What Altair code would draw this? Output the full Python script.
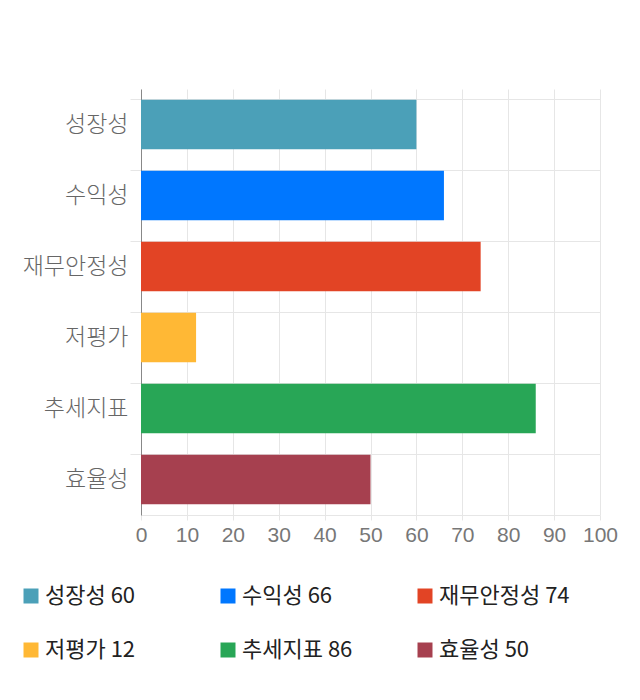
import altair as alt
import pandas as pd

names = ["성장성", "수익성", "재무안정성", "저평가", "추세지표", "효율성"]
values = [60, 66, 74, 12, 86, 50]
colors = ["#4BA0B8", "#0077FF", "#E24425", "#FFB835", "#28A656", "#A6404F"]
x_ticks = [0, 10, 20, 30, 40, 50, 60, 70, 80, 90, 100]

df = pd.DataFrame({
    "name": names,
    "value": values,
    "legend": [f"{n} {v}" for n, v in zip(names, values)],
})
legend_labels = list(df["legend"])

FONT = "Noto Sans CJK KR"

chart = alt.Chart(df).mark_bar().encode(
    y=alt.Y("name:N", sort=names, title=None,
            scale=alt.Scale(paddingInner=0.3, paddingOuter=0.15),
            axis=alt.Axis(labelFontSize=23, labelColor="#666666", labelFont=FONT,
                          labelFontWeight=300,
                          labelPadding=2, tickSize=11, tickColor="#e6e6e6",
                          bandPosition=0, grid=True, gridColor="#e6e6e6",
                          domainColor="#888888")),
    x=alt.X("value:Q", title=None,
            scale=alt.Scale(domain=[0, 100], nice=False),
            axis=alt.Axis(values=x_ticks, labelFontSize=21, labelColor="#777777",
                          labelFont="Liberation Sans", labelFlush=False,
                          labelOverlap=False, tickSize=5, tickColor="#e6e6e6",
                          grid=True, gridColor="#e6e6e6", domainColor="#e6e6e6",
                          labelPadding=4)),
    color=alt.Color("legend:N", sort=legend_labels,
                    scale=alt.Scale(domain=legend_labels, range=colors),
                    legend=alt.Legend(title=None, orient="none", legendX=-121, legendY=496,
                                      direction="horizontal",
                                      columns=3, symbolType="square", symbolSize=225,
                                      symbolStrokeWidth=0, labelFontSize=22,
                                      labelFont=FONT, labelColor="#222222",
                                      labelOffset=3, gridAlign="all",
                                      columnPadding=41, rowPadding=32,
                                      labelLimit=300)),
).properties(
    width=459, height=426,
    autosize=alt.AutoSizeParams(type="none"),
    padding={"left": 133, "top": 81, "right": 32, "bottom": 177},
).configure_view(stroke=None)

chart.save("out.html", embed_options={"renderer": "svg", "actions": False})
